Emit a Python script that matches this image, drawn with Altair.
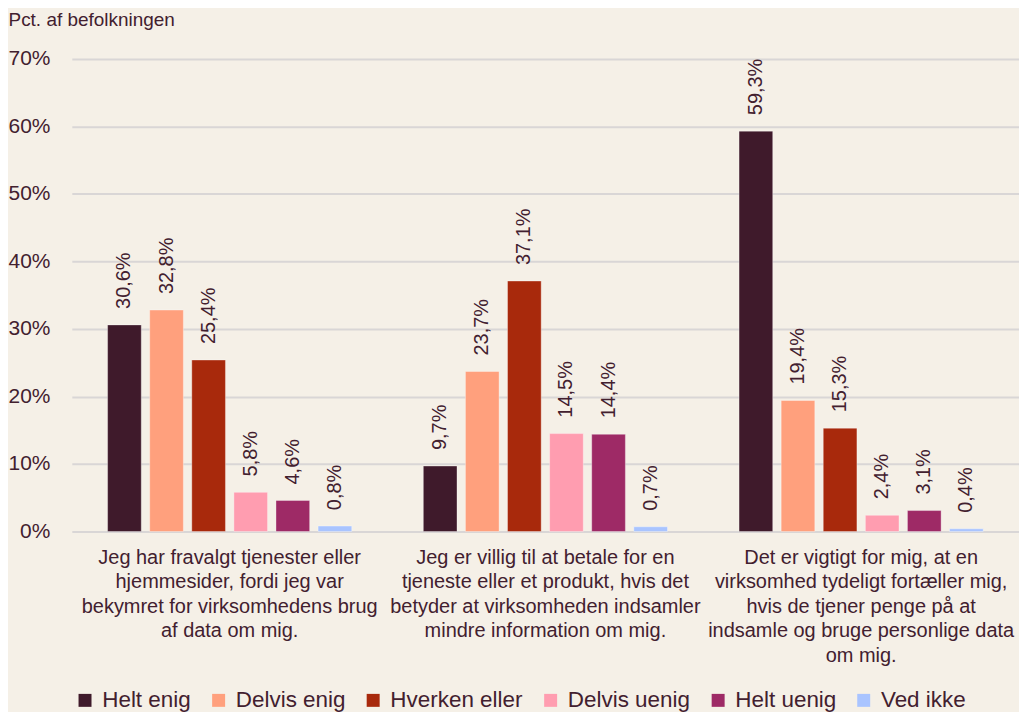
import altair as alt
import pandas as pd

categories = [
    "Jeg har fravalgt tjenester eller|hjemmesider, fordi jeg var|bekymret for virksomhedens brug|af data om mig.",
    "Jeg er villig til at betale for en|tjeneste eller et produkt, hvis det|betyder at virksomheden indsamler|mindre information om mig.",
    "Det er vigtigt for mig, at en|virksomhed tydeligt fortæller mig,|hvis de tjener penge på at|indsamle og bruge personlige data|om mig.",
]
responses = ["Helt enig", "Delvis enig", "Hverken eller", "Delvis uenig", "Helt uenig", "Ved ikke"]
values_q1 = [30.6, 32.8, 25.4, 5.8, 4.6, 0.8]
values_q2 = [9.7, 23.7, 37.1, 14.5, 14.4, 0.7]
values_q3 = [59.3, 19.4, 15.3, 2.4, 3.1, 0.4]
colors = ["#3f1a2b", "#ffa07d", "#a8290c", "#ff9db0", "#9e2a66", "#a9c4ff"]
y_ticks = [0, 10, 20, 30, 40, 50, 60, 70]

BG = "#f5f0e7"
TXT = "#42202f"
GRID = "#d9d6d6"
FONT = "Liberation Sans"

rows = []
for cat, vals in zip(categories, [values_q1, values_q2, values_q3]):
    for r, v in zip(responses, vals):
        rows.append({"cat": cat, "resp": r, "value": v,
                     "label": f"{v:.1f}".replace(".", ",") + "%"})
df = pd.DataFrame(rows)

x = alt.X("cat:N", sort=categories,
          scale=alt.Scale(paddingInner=0.2, paddingOuter=0.1),
          axis=alt.Axis(title=None, labelExpr="split(datum.label, '|')",
                        labelAngle=0, labelFontSize=20, labelLineHeight=24.5,
                        labelPadding=16, labelColor=TXT, labelFont=FONT,
                        labelLimit=0, domain=False, ticks=False, grid=False))
xo = alt.XOffset("resp:N", sort=responses,
                 scale=alt.Scale(paddingInner=0.2, paddingOuter=0.1))
y = alt.Y("value:Q",
          scale=alt.Scale(domain=[0, 70], nice=False),
          axis=alt.Axis(values=y_ticks, labelExpr="datum.value + '%'",
                        title="Pct. af befolkningen", titleAngle=0,
                        titleAlign="left", titleBaseline="alphabetic",
                        titleX=-64, titleY=-33, titleFontSize=19,
                        titleFontWeight="normal", titleColor=TXT, titleFont=FONT,
                        labelFontSize=21, labelColor=TXT, labelFont=FONT,
                        labelPadding=22, domain=False, ticks=False,
                        grid=True, gridColor=GRID, gridWidth=2))

color = alt.Color("resp:N", sort=responses,
                  scale=alt.Scale(domain=responses, range=colors),
                  legend=alt.Legend(title=None, orient="none", direction="horizontal",
                                    legendX=2, legendY=632, columns=6,
                                    symbolType="square", symbolSize=169,
                                    symbolStrokeWidth=0, labelFontSize=22.5,
                                    labelFont=FONT, labelColor=TXT,
                                    labelOffset=6, columnPadding=16,
                                    symbolOpacity=1))

bars = alt.Chart(df).mark_bar(stroke="#ffffff", strokeOpacity=0.35, strokeWidth=1).encode(
    x=x, xOffset=xo, y=y, color=color)

text = alt.Chart(df).mark_text(angle=270, align="left", baseline="middle", dx=16,
                               fontSize=20, font=FONT, color=TXT).encode(
    x=alt.X("cat:N", sort=categories), xOffset=alt.XOffset("resp:N", sort=responses),
    y="value:Q", text="label:N")

chart = (bars + text).properties(
    width=950, height=474, background=BG,
    padding={"left": 64, "top": 50, "right": 0, "bottom": 180},
    autosize=alt.AutoSizeParams(type="none"),
).configure_view(stroke=None)

chart.save("out.html", embed_options={"renderer": "svg", "actions": False})
